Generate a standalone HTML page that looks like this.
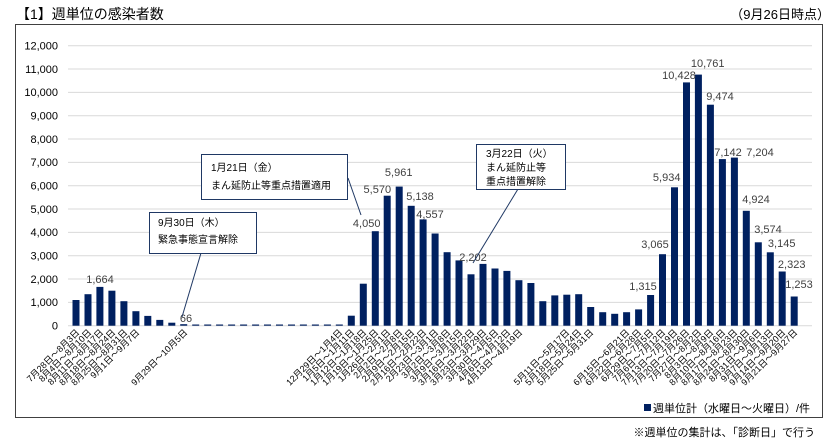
<!DOCTYPE html>
<html><head><meta charset="utf-8"><style>
html,body{margin:0;padding:0;background:#fff;width:838px;height:444px;overflow:hidden}
svg{display:block;font-family:"Liberation Sans","Noto Sans CJK JP",sans-serif}
</style></head><body>
<svg width="838" height="444" viewBox="0 0 838 444" xmlns="http://www.w3.org/2000/svg">
<text x="16" y="19" font-size="14" fill="#000">【1】週単位の感染者数</text>
<text x="830" y="19" font-size="13" fill="#000" text-anchor="end">（9月26日時点）</text>
<rect x="15.5" y="24.5" width="807" height="393" fill="none" stroke="#404040" stroke-width="1"/>
<g stroke="#d9d9d9" stroke-width="1">
<line x1="68" x2="812" y1="45.7" y2="45.7"/><line x1="68" x2="812" y1="69" y2="69"/><line x1="68" x2="812" y1="92.4" y2="92.4"/><line x1="68" x2="812" y1="115.7" y2="115.7"/><line x1="68" x2="812" y1="139" y2="139"/><line x1="68" x2="812" y1="162.4" y2="162.4"/><line x1="68" x2="812" y1="185.7" y2="185.7"/><line x1="68" x2="812" y1="209" y2="209"/><line x1="68" x2="812" y1="232.4" y2="232.4"/><line x1="68" x2="812" y1="255.7" y2="255.7"/><line x1="68" x2="812" y1="279" y2="279"/><line x1="68" x2="812" y1="302.4" y2="302.4"/><line x1="68" x2="812" y1="325.7" y2="325.7"/>
</g>
<g font-size="11" fill="#000" text-anchor="end">
<text x="58" y="49.5">12,000</text><text x="58" y="73">11,000</text><text x="58" y="96">10,000</text><text x="58" y="119.5">9,000</text><text x="58" y="143">8,000</text><text x="58" y="166">7,000</text><text x="58" y="189.5">6,000</text><text x="58" y="213">5,000</text><text x="58" y="236">4,000</text><text x="58" y="259.5">3,000</text><text x="58" y="283">2,000</text><text x="58" y="306">1,000</text><text x="58" y="329.5">0</text>
</g>
<g transform="translate(0,325.7) scale(1,-1)" fill="#002060">
<rect x="72.5" y="0" width="7" height="25.7"/><rect x="84.5" y="0" width="7" height="31.5"/><rect x="96.4" y="0" width="7" height="38.8"/><rect x="108.4" y="0" width="7" height="35"/><rect x="120.4" y="0" width="7" height="24.5"/><rect x="132.4" y="0" width="7" height="14.5"/><rect x="144.3" y="0" width="7" height="9.8"/><rect x="156.3" y="0" width="7" height="5.8"/><rect x="168.3" y="0" width="7" height="3"/><rect x="180.2" y="0" width="7" height="1.5"/>
<rect x="192.2" y="0" width="7" height="1.2"/><rect x="204.2" y="0" width="7" height="1.2"/><rect x="216.1" y="0" width="7" height="1.2"/><rect x="228.1" y="0" width="7" height="1.2"/><rect x="240.1" y="0" width="7" height="1.2"/><rect x="252.1" y="0" width="7" height="1.2"/><rect x="264" y="0" width="7" height="1.2"/><rect x="276" y="0" width="7" height="1.2"/><rect x="288" y="0" width="7" height="1.2"/><rect x="299.9" y="0" width="7" height="1.2"/><rect x="311.9" y="0" width="7" height="1.2"/><rect x="323.9" y="0" width="7" height="1.2"/><rect x="335.8" y="0" width="7" height="1.2"/>
<rect x="347.8" y="0" width="7" height="10"/><rect x="359.8" y="0" width="7" height="42"/><rect x="371.8" y="0" width="7" height="94.5"/><rect x="383.7" y="0" width="7" height="130"/><rect x="395.7" y="0" width="7" height="139.1"/><rect x="407.7" y="0" width="7" height="119.9"/><rect x="419.6" y="0" width="7" height="106.3"/><rect x="431.6" y="0" width="7" height="92.2"/><rect x="443.6" y="0" width="7" height="73.5"/><rect x="455.5" y="0" width="7" height="65.3"/><rect x="467.5" y="0" width="7" height="51.4"/><rect x="479.5" y="0" width="7" height="61.8"/><rect x="491.5" y="0" width="7" height="57.2"/><rect x="503.4" y="0" width="7" height="54.8"/><rect x="515.4" y="0" width="7" height="45.5"/><rect x="527.4" y="0" width="7" height="42.7"/><rect x="539.3" y="0" width="7" height="24.5"/><rect x="551.3" y="0" width="7" height="30.3"/><rect x="563.3" y="0" width="7" height="31"/><rect x="575.2" y="0" width="7" height="31.5"/><rect x="587.2" y="0" width="7" height="18.7"/><rect x="599.2" y="0" width="7" height="13.5"/><rect x="611.2" y="0" width="7" height="11.9"/><rect x="623.1" y="0" width="7" height="13.5"/><rect x="635.1" y="0" width="7" height="16.3"/><rect x="647.1" y="0" width="7" height="30.7"/><rect x="659" y="0" width="7" height="71.5"/><rect x="671" y="0" width="7" height="138.4"/><rect x="683" y="0" width="7" height="243.3"/><rect x="694.9" y="0" width="7" height="251.1"/><rect x="706.9" y="0" width="7" height="221"/><rect x="718.9" y="0" width="7" height="166.6"/><rect x="730.9" y="0" width="7" height="168.1"/><rect x="742.8" y="0" width="7" height="114.9"/><rect x="754.8" y="0" width="7" height="83.4"/><rect x="766.8" y="0" width="7" height="73.4"/><rect x="778.7" y="0" width="7" height="54.2"/><rect x="790.7" y="0" width="7" height="29.2"/>
</g>
<g font-size="11" fill="#404040" text-anchor="middle">
<text x="100" y="283">1,664</text><text x="186" y="322">66</text>
<text x="366.7" y="227">4,050</text><text x="377.3" y="193">5,570</text><text x="398.7" y="176">5,961</text><text x="420" y="200">5,138</text><text x="430" y="218">4,557</text><text x="473" y="261">2,202</text>
<text x="643" y="290">1,315</text><text x="655" y="248">3,065</text><text x="666.7" y="181">5,934</text><text x="679" y="79">10,428</text><text x="707.7" y="67">10,761</text><text x="720" y="100">9,474</text><text x="728" y="156">7,142</text><text x="760" y="156">7,204</text><text x="756" y="203">4,924</text><text x="768" y="233">3,574</text><text x="781.7" y="247">3,145</text><text x="791.7" y="268">2,323</text><text x="799" y="288">1,253</text>
</g>
<g stroke="#1f3864" stroke-width="1" fill="none">
<line x1="348" y1="178" x2="361" y2="215"/>
<line x1="201" y1="253" x2="182" y2="317"/>
<line x1="518" y1="189" x2="473" y2="263"/>
</g>
<g fill="#fff" stroke="#1f3864" stroke-width="1">
<rect x="201.5" y="154.5" width="146" height="45"/>
<rect x="149.5" y="212.5" width="107" height="41"/>
<rect x="476.5" y="144.5" width="89" height="45"/>
</g>
<g font-size="10" fill="#000">
<text x="211" y="171">1月21日（金）</text><text x="211" y="189">まん延防止等重点措置適用</text>
<text x="158" y="226">9月30日（木）</text><text x="158" y="243">緊急事態宣言解除</text>
<text x="486" y="157">3月22日（火）</text><text x="486" y="171">まん延防止等</text><text x="486" y="185">重点措置解除</text>
</g>
<g font-size="9" fill="#000" text-anchor="end">
<text transform="translate(80,333) rotate(-45)">7月28日～8月3日</text>
<text transform="translate(92,333) rotate(-45)">8月4日～8月10日</text>
<text transform="translate(104,333) rotate(-45)">8月11日～8月17日</text>
<text transform="translate(116,333) rotate(-45)">8月18日～8月24日</text>
<text transform="translate(128,333) rotate(-45)">8月25日～8月31日</text>
<text transform="translate(140,333) rotate(-45)">9月1日～9月7日</text>
<text transform="translate(188,333) rotate(-45)">9月29日～10月5日</text>
<text transform="translate(343,333) rotate(-45)">12月29日～1月4日</text>
<text transform="translate(355,333) rotate(-45)">1月5日～1月11日</text>
<text transform="translate(367,333) rotate(-45)">1月12日～1月18日</text>
<text transform="translate(379,333) rotate(-45)">1月19日～1月25日</text>
<text transform="translate(391,333) rotate(-45)">1月26日～2月1日</text>
<text transform="translate(403,333) rotate(-45)">2月2日～2月8日</text>
<text transform="translate(415,333) rotate(-45)">2月9日～2月15日</text>
<text transform="translate(427,333) rotate(-45)">2月16日～2月22日</text>
<text transform="translate(439,333) rotate(-45)">2月23日～3月1日</text>
<text transform="translate(451,333) rotate(-45)">3月2日～3月8日</text>
<text transform="translate(463,333) rotate(-45)">3月9日～3月15日</text>
<text transform="translate(475,333) rotate(-45)">3月16日～3月22日</text>
<text transform="translate(487,333) rotate(-45)">3月23日～3月29日</text>
<text transform="translate(499,333) rotate(-45)">3月30日～4月5日</text>
<text transform="translate(511,333) rotate(-45)">4月6日～4月12日</text>
<text transform="translate(523,333) rotate(-45)">4月13日～4月19日</text>
<text transform="translate(570,333) rotate(-45)">5月11日～5月17日</text>
<text transform="translate(582,333) rotate(-45)">5月18日～5月24日</text>
<text transform="translate(594,333) rotate(-45)">5月25日～5月31日</text>
<text transform="translate(630,333) rotate(-45)">6月15日～6月21日</text>
<text transform="translate(642,333) rotate(-45)">6月22日～6月28日</text>
<text transform="translate(654,333) rotate(-45)">6月29日～7月5日</text>
<text transform="translate(666,333) rotate(-45)">7月6日～7月12日</text>
<text transform="translate(678,333) rotate(-45)">7月13日～7月19日</text>
<text transform="translate(690,333) rotate(-45)">7月20日～7月26日</text>
<text transform="translate(702,333) rotate(-45)">7月27日～8月2日</text>
<text transform="translate(714,333) rotate(-45)">8月3日～8月9日</text>
<text transform="translate(726,333) rotate(-45)">8月10日～8月16日</text>
<text transform="translate(738,333) rotate(-45)">8月17日～8月23日</text>
<text transform="translate(750,333) rotate(-45)">8月24日～8月30日</text>
<text transform="translate(762,333) rotate(-45)">8月31日～9月6日</text>
<text transform="translate(774,333) rotate(-45)">9月7日～9月13日</text>
<text transform="translate(786,333) rotate(-45)">9月14日～9月20日</text>
<text transform="translate(798,333) rotate(-45)">9月21日～9月27日</text>
</g>
<rect x="644" y="404" width="7" height="7" fill="#002060"/>
<text x="653" y="412" font-size="11" fill="#000">週単位計（水曜日～火曜日）/件</text>
<text x="815" y="436" font-size="11" fill="#000" text-anchor="end">※週単位の集計は、「診断日」で行う</text>
</svg>
</body></html>
